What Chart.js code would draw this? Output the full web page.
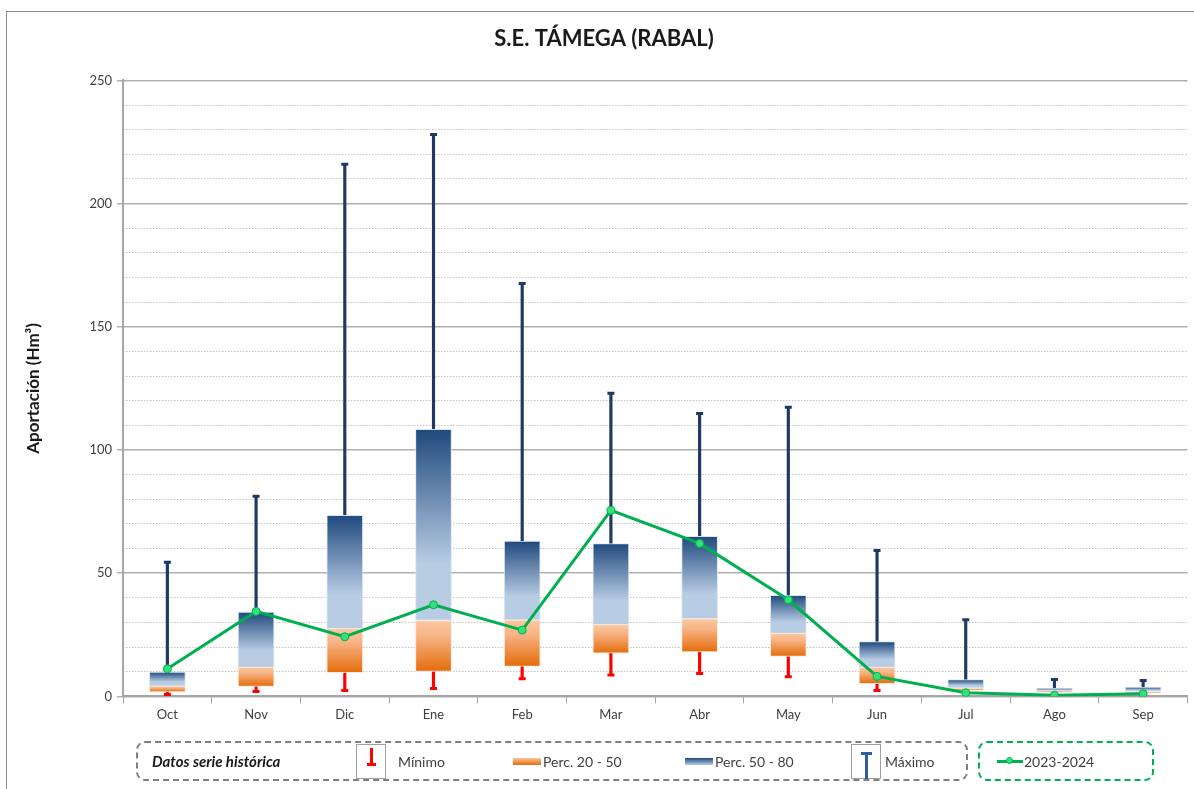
<!DOCTYPE html>
<html>
<head>
<meta charset="utf-8">
<script src="https://cdn.jsdelivr.net/npm/chart.js@4/dist/chart.umd.min.js"></script>
<style>
  body { margin: 0; background: #fff; font-family: Lato, "Open Sans", sans-serif; }
  #wrap { position: relative; width: 1194px; height: 789px; overflow: hidden; }
  #frame { position: absolute; left: 6px; top: 11px; width: 1200px; height: 800px; border: 1px solid #8c8c8c; box-sizing: border-box; }
  canvas { position: absolute; left: 0; top: 0; }
  .lg { position: absolute; box-sizing: border-box; border-radius: 9px; }
  .txt { position: absolute; top: 0; line-height: 37px; font-size: 13px; color: #404040; }
  .icon { position: absolute; top: 1px; width: 30px; height: 35px; border: 1px solid #a0a0a0; box-sizing: border-box; background: #fff; }
</style>
</head>
<body>
<div id="wrap">
  <div id="frame"></div>
  <canvas id="chartBox" width="1194" height="789"></canvas>
  <div class="lg" style="left:136px; top:741px; width:832px; height:40px; border:2px dashed #7f7f7f;">
    <div class="txt" style="left:14px; font-size:15px; font-weight:bold; font-style:italic; color:#1a1a1a;">Datos serie histórica</div>
    <div class="icon" style="left:218px;">
      <div style="position:absolute; left:13px; top:3px; width:3px; height:17px; background:#ff0000;"></div>
      <div style="position:absolute; left:10px; top:18px; width:9px; height:3px; background:#ff0000;"></div>
    </div>
    <div class="txt" style="left:260px; font-size:14px;">Mínimo</div>
    <div style="position:absolute; left:375px; top:15px; width:28px; height:7px; background:linear-gradient(#f9c49a,#e46c0a);"></div>
    <div class="txt" style="left:405px; font-size:14px;">Perc. 20 - 50</div>
    <div style="position:absolute; left:547px; top:15px; width:28px; height:7px; background:linear-gradient(#1f497d,#b8cce4);"></div>
    <div class="txt" style="left:577px; font-size:14px;">Perc. 50 - 80</div>
    <div class="icon" style="left:713px;">
      <div style="position:absolute; left:9px; top:7px; width:11px; height:3px; background:#2e5e9e;"></div>
      <div style="position:absolute; left:13px; top:7px; width:3px; height:27px; background:#2e5e9e;"></div>
    </div>
    <div class="txt" style="left:747px; font-size:14px;">Máximo</div>
  </div>
  <div class="lg" style="left:978px; top:741px; width:176px; height:40px; border:2px dashed #00b050;">
    <div style="position:absolute; left:17px; top:17px; width:26px; height:3px; background:#00b050;"></div>
    <div style="position:absolute; left:26px; top:14px; width:7px; height:7px; border-radius:50%; background:#33e07a; border:1px solid #00b050; box-sizing:border-box;"></div>
    <div class="txt" style="left:44px; font-size:14px;">2023-2024</div>
  </div>
</div>
<script>
const months = ["Oct", "Nov", "Dic", "Ene", "Feb", "Mar", "Abr", "May", "Jun", "Jul", "Ago", "Sep"];
const minimo = [0.8, 2.0, 2.4, 3.2, 7.2, 8.7, 9.3, 8.0, 2.4, 1.5, 0.5, 0.5];
const perc20 = [1.8, 4.1, 9.6, 10.1, 12.2, 17.5, 18.1, 16.2, 5.2, 2.4, 1.7, 1.4];
const perc50 = [4.2, 11.8, 27.5, 30.8, 31.0, 29.1, 31.5, 25.6, 11.8, 3.4, 2.2, 2.0];
const perc80 = [9.9, 34.2, 73.5, 108.4, 63.0, 62.0, 65.0, 41.0, 22.2, 6.8, 3.4, 3.8];
const maximo = [54.4, 81.2, 216.0, 228.0, 167.6, 123.0, 114.8, 117.3, 59.2, 31.1, 6.9, 6.5];
const actual = [11.2, 34.5, 24.2, 37.2, 26.9, 75.5, 62.1, 39.2, 8.1, 1.5, 0.5, 1.1];
const yTicks = [0, 50, 100, 150, 200, 250];

const zip = (a, b) => a.map((v, i) => [v, b[i]]);

function boxGradient(stops, fallback) {
  return function (ctx) {
    const chart = ctx.chart;
    if (ctx.type !== 'data' || !chart.chartArea || !Array.isArray(ctx.raw)) return fallback;
    const y = chart.scales.y;
    const top = y.getPixelForValue(ctx.raw[1]);
    const bot = y.getPixelForValue(ctx.raw[0]);
    if (bot - top < 1) return fallback;
    const g = chart.ctx.createLinearGradient(0, top, 0, bot);
    stops.forEach(s => g.addColorStop(s[0], s[1]));
    return g;
  };
}

const navy = '#1f3864';

new Chart(document.getElementById('chartBox'), {
  data: {
    labels: months,
    datasets: [
      {
        type: 'line', label: '2023-2024', data: actual, order: 0,
        borderColor: '#00b050', borderWidth: 3, tension: 0,
        pointRadius: 4, pointBackgroundColor: '#33e07a', pointBorderColor: '#00b050', pointBorderWidth: 1
      },
      {
        type: 'bar', label: 'Perc. 20 - 50', data: zip(perc20, perc50), order: 2,
        backgroundColor: boxGradient([[0, '#fbc8a0'], [0.3, '#f7b487'], [1, '#e46c0a']], '#f4a46a'),
        borderColor: 'rgba(255,230,210,0.9)', borderWidth: 1, borderSkipped: false,
        barThickness: 36, grouped: false
      },
      {
        type: 'bar', label: 'Perc. 50 - 80', data: zip(perc50, perc80), order: 2,
        backgroundColor: boxGradient([[0, '#1f497d'], [0.7, '#b8cce4'], [1, '#b8cce4']], '#6d8bb5'),
        borderColor: 'rgba(215,228,242,0.9)', borderWidth: 1, borderSkipped: false,
        barThickness: 36, grouped: false
      },
      {
        type: 'bar', label: 'max whisker', data: zip(perc80, maximo), order: 3,
        backgroundColor: navy, barThickness: 2.5, grouped: false
      },
      {
        type: 'bar', label: 'min whisker', data: zip(minimo, perc20), order: 3,
        backgroundColor: '#ff0000', barThickness: 2.5, grouped: false
      },
      {
        type: 'line', label: 'max cap', data: maximo, order: 1, showLine: false,
        pointStyle: 'line', pointRadius: 3.5, pointBorderWidth: 3, pointBorderColor: navy,
        pointHoverRadius: 3.5
      },
      {
        type: 'line', label: 'min cap', data: minimo, order: 1, showLine: false,
        pointStyle: 'line', pointRadius: 3.5, pointBorderWidth: 3, pointBorderColor: '#ff0000',
        pointHoverRadius: 3.5
      }
    ]
  },
  options: {
    responsive: false,
    animation: false,
    layout: { padding: { left: 19, right: 5, top: 12, bottom: 62 } },
    plugins: {
      legend: { display: false },
      tooltip: { enabled: false },
      title: {
        display: true, text: 'S.E. TÁMEGA (RABAL)', color: '#1a1a1a',
        font: { family: 'Lato', size: 22, weight: 'bold' }, padding: { top: 14, bottom: 28 }
      }
    },
    scales: {
      x: {
        offset: true,
        grid: { offset: true, drawOnChartArea: false, color: '#a6a6a6', tickLength: 7 },
        border: { color: '#a6a6a6', width: 2 },
        ticks: { color: '#404040', font: { family: 'Lato', size: 13 }, padding: 4 }
      },
      y: {
        min: 0, max: 250,
        afterBuildTicks: axis => { axis.ticks = yTicks.map(v => ({ value: v })); },
        grid: { color: '#b0b0b0', lineWidth: 1.5, tickLength: 6 },
        border: { color: '#a6a6a6', width: 2 },
        ticks: { color: '#404040', font: { family: 'Lato', size: 13 }, padding: 5 },
        title: {
          display: true, text: 'Aportación (Hm³)', color: '#1a1a1a',
          font: { family: 'Lato', size: 17, weight: 'bold' }, padding: { bottom: 41 }
        }
      },
      y2: {
        position: 'right', min: 0, max: 250,
        ticks: { display: false, stepSize: 10 },
        grid: {
          drawTicks: false,
          color: c => (c.tick && c.tick.value % 50 === 0) ? 'rgba(0,0,0,0)' : '#c4c4c4',
          lineWidth: 1
        },
        border: { display: false, dash: [1.5, 1.5] }
      }
    }
  }
});
</script>
</body>
</html>
